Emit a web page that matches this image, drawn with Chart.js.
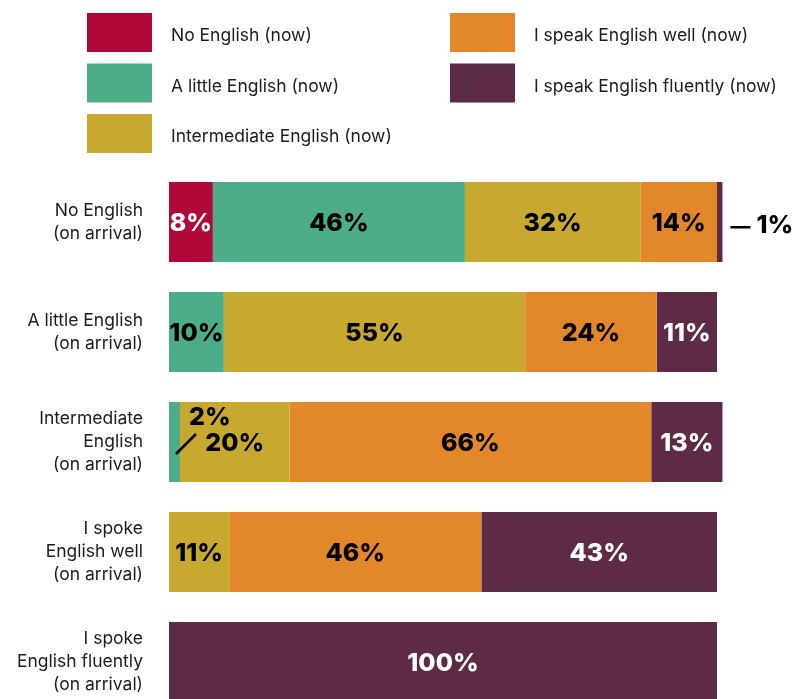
<!DOCTYPE html>
<html>
<head>
<meta charset="utf-8">
<title>English level on arrival and now</title>
<script src="https://cdn.jsdelivr.net/npm/chart.js@4"></script>
<style>
  html, body { margin: 0; padding: 0; background: #fff; overflow: hidden; }
  #wrap { position: relative; width: 794px; height: 717px; }
</style>
</head>
<body>
<div id="wrap"><canvas id="chart"></canvas></div>
<script>
// Level of English on arrival (rows) split by level of English now (segments), in %.
const categories = [
  ["No English", "(on arrival)"],
  ["A little English", "(on arrival)"],
  ["Intermediate", "English", "(on arrival)"],
  ["I spoke", "English well", "(on arrival)"],
  ["I spoke", "English fluently", "(on arrival)"]
];
const seriesNames = [
  "No English (now)",
  "A little English (now)",
  "Intermediate English (now)",
  "I speak English well (now)",
  "I speak English fluently (now)"
];
const noEnglishNow    = [8, 0, 0, 0, 0];
const aLittleNow      = [46, 10, 2, 0, 0];
const intermediateNow = [32, 55, 20, 11, 0];
const wellNow         = [14, 24, 66, 46, 0];
const fluentNow       = [1, 11, 13, 43, 100];

const seriesColors = ["#B1083A", "#4CAD88", "#C8A92F", "#E2882A", "#5E2B46"];
const labelColors  = ["#ffffff", "#000000", "#000000", "#000000", "#ffffff"];

const FONT = "Inter, 'Noto Sans', sans-serif";

// Two-column legend, filled column by column, drawn above the bars.
const columnLegend = {
  id: "columnLegend",
  afterDraw(chart) {
    const ctx = chart.ctx;
    const cols = [{ x: 87, items: [0, 1, 2] }, { x: 450, items: [3, 4] }];
    ctx.save();
    ctx.font = "17.5px " + FONT;
    ctx.textBaseline = "middle";
    ctx.textAlign = "left";
    cols.forEach(col => {
      col.items.forEach((di, row) => {
        const ds = chart.data.datasets[di];
        const top = 13 + row * 50.5;
        ctx.fillStyle = ds.backgroundColor;
        ctx.fillRect(col.x, top, 65, 39);
        ctx.fillStyle = "#1c1c1c";
        ctx.fillText(ds.label, col.x + 84, top + 23);
      });
    });
    ctx.restore();
  }
};

// Percentage labels on each segment; very narrow segments get a callout.
const segmentLabels = {
  id: "segmentLabels",
  afterDatasetsDraw(chart) {
    const ctx = chart.ctx;
    ctx.save();
    ctx.font = "800 25px " + FONT;
    ctx.textBaseline = "middle";
    ctx.textAlign = "center";
    chart.data.datasets.forEach((ds, di) => {
      const meta = chart.getDatasetMeta(di);
      meta.data.forEach((bar, i) => {
        const v = ds.data[i];
        if (!v) return;
        const text = v + "%";
        const w = Math.abs(bar.x - bar.base);
        const y = bar.y + 1;
        if (w < 8) {
          // dash pointing to a sliver at the end of the bar
          ctx.fillStyle = "#000";
          ctx.fillRect(bar.x + 8, y + 3, 20, 2.5);
          ctx.textAlign = "left";
          ctx.fillText(text, bar.x + 34, y + 2);
          ctx.textAlign = "center";
        } else if (w < 30) {
          // label lifted above the neighbouring segment with a slash leader
          ctx.strokeStyle = "#000";
          ctx.lineWidth = 2.5;
          ctx.beginPath();
          ctx.moveTo(bar.x - 4, y + 11);
          ctx.lineTo(bar.x + 16, y - 9);
          ctx.stroke();
          ctx.fillStyle = "#000";
          ctx.fillText(text, bar.x + 30, y - 26);
        } else {
          ctx.fillStyle = labelColors[di];
          ctx.fillText(text, (bar.x + bar.base) / 2, y);
        }
      });
    });
    ctx.restore();
  }
};

const seriesData = [noEnglishNow, aLittleNow, intermediateNow, wellNow, fluentNow];

new Chart(document.getElementById("chart"), {
  type: "bar",
  data: {
    labels: categories,
    datasets: seriesData.map((d, i) => ({
      label: seriesNames[i],
      data: d,
      backgroundColor: seriesColors[i],
      borderWidth: 0,
      categoryPercentage: 1,
      barPercentage: 80 / 110,
      clip: false
    }))
  },
  options: {
    indexAxis: "y",
    responsive: true,
    maintainAspectRatio: false,
    animation: false,
    layout: { padding: { top: 167, right: 77, left: 0, bottom: 0 } },
    plugins: {
      legend: { display: false },
      tooltip: { enabled: false }
    },
    scales: {
      x: {
        stacked: true,
        display: false,
        min: 0,
        max: 100
      },
      y: {
        stacked: true,
        grid: { display: false, drawTicks: false },
        border: { display: false },
        afterFit(scale) {
          scale.width = 169;
          scale.paddingTop = 0;
          scale.paddingBottom = 0;
        },
        ticks: {
          padding: 26,
          color: "#1c1c1c",
          font: { family: FONT, size: 17.5, lineHeight: 1.32 }
        }
      }
    }
  },
  plugins: [columnLegend, segmentLabels]
});
</script>
</body>
</html>
